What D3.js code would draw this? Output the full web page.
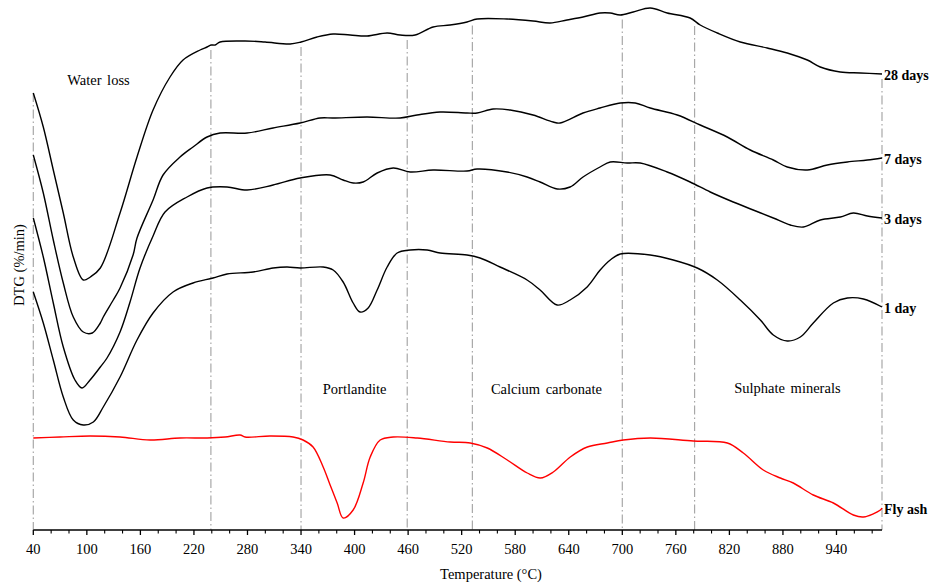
<!DOCTYPE html>
<html>
<head>
<meta charset="utf-8">
<script src="https://cdn.jsdelivr.net/npm/d3@7"></script>
<style>
  html, body { margin: 0; padding: 0; background: #fff; }
  svg { display: block; font-family: "Liberation Serif", "Times New Roman", serif; }
</style>
</head>
<body>
<svg id="chart" width="937" height="588"></svg>
<script>
// ---------- DATA (temperature °C, stacked DTG signal in arbitrary offset units) ----------
const temps28 = [40,51.2,62.4,73.6,84.8,96,103.9,115.1,137.2,156.2,174.2,193.2,207.8,226.9,234.7,239.2,243.7,249.3,277.3,299.7,327.8,340.1,358,376,395,414,436.5,451,467.9,488,507,526,537.3,570.9,600,619,638,656,675,686.5,697.7,712.2,731.3,750.3,776,787.3,806.4,832.2,862.4,884.8,907.3,921.8,944.2,966.7,991];
const vals28  = [437,403,360,317,273,250,253,262,317,373,420,453,470,480,483,485,485,488,489,488,486,488,493,496,495,494,497,495,495,503,505,508,511,511,509,507,510,513,517,517,515,518,522,517,512,505,497,488,482,477,470,463,458,457,456];

const temps7 = [40,51.2,62.4,73.6,84.8,96,106.1,115.1,118.4,129.6,137.2,151.8,156.2,174.2,185.4,204.4,219,234.7,249.3,279.6,308.7,339,361.3,376,414,451,470,495.8,526,537.3,555.3,574.3,600,622.5,630.3,656,675,697.7,714.5,731.3,761.6,787.3,817.6,843.4,869.2,884.8,907.3,929.7,952.2,974.6,991];
const vals7  = [375,337,290,247,213,198,197,207,213,230,242,275,292,330,355,373,383,393,397,397,402,407,412,412,413,412,415,418,417,417,421,420,415,408,407,417,422,427,427,422,415,405,393,380,370,363,360,365,368,370,372];

const temps3 = [40,51.2,62.4,73.6,86.7,94.6,103.6,115.1,122.6,137.2,148.4,159.6,174.2,187.6,212.3,234.7,257.1,279.6,308.7,339,372.6,387.2,398.4,409.6,425.3,443.3,462.3,488,526,537.3,570.9,593.3,607.9,627,641.5,656,675,686.5,705.5,720.1,750.3,776,798.5,824.3,846.7,869.2,888.3,902.9,921.9,944.3,958.9,974.6,991];
const vals3  = [312,273,227,183,150,142,150,163,172,198,228,262,294,318,333,342,343,340,345,352,355,350,347,348,357,362,358,360,359,361,358,353,348,341,343,353,363,368,367,367,358,348,338,328,320,312,305,303,310,313,317,314,312];

const temps1 = [40,51.2,62.4,73.6,84.8,96,107.3,118.4,137.2,156.2,174.2,196.6,219,241.4,257.1,286.3,308.7,324.4,339,364.8,376,387.2,398.4,406.2,415.2,425.3,436.5,447.7,462.3,481.3,495.9,526,540.6,563,593.3,607.9,627,641.5,660.6,675.2,686.5,697.7,731.3,757.1,784,806.4,832.2,854.7,869.2,884.9,899.5,914,936.5,952.2,970.2,991];
const vals1  = [238,207,170,133,110,105,108,123,153,190,217,238,247,252,256,258,262,263,262,263,260,248,227,218,222,240,263,277,280,280,277,275,272,263,250,240,225,230,243,260,270,276,275,270,262,250,230,210,195,189,193,207,227,232,231,223];

const tempsFA = [40,69.9,103.6,137.2,170.8,204.4,234.7,254.9,271.7,277.3,305.3,331.1,342.3,353.5,364.8,372.6,380.5,387.2,398.4,409.6,417.5,428.7,443.3,470.2,507.2,529.6,548.7,571.1,593.5,608.1,622.7,641.7,660.8,683.2,701.1,731.4,779.6,817.7,835.6,858,877.1,891.6,914,936.5,958.9,970.1,989.2,991];
const valsFA  = [92,93,94,93,90,92,92,93,95,93,94,93,90,83,63,45,27,12,20,47,73,90,93,92,88,87,82,70,57,52,58,73,83,87,90,92,89,87,77,60,52,47,35,27,15,13,20,22];

const seriesNames  = ["28 days", "7 days", "3 days", "1 day", "Fly ash"];
const seriesColors = ["#000000", "#000000", "#000000", "#000000", "#ff0000"];

const guideTemps = [40, 239, 340, 459, 532, 700, 781, 991];
const regionLabels = ["Water loss", "Portlandite", "Calcium carbonate", "Sulphate minerals"];
const regionLabelTemps = [113, 400, 615, 885];
const regionLabelVals  = [445, 136, 136, 137];

const majorTicks = [40,100,160,220,280,340,400,460,520,580,640,700,760,820,880,940];
const xLabel = "Temperature (°C)";
const yLabel = "DTG (%/min)";

// ---------- CHART ----------
const svg = d3.select("#chart");
const x = d3.scaleLinear().domain([40, 991]).range([33.3, 882]);
const y = d3.scaleLinear().domain([0, 520]).range([530, 10]);

const allSeries = [
  {name: seriesNames[0], t: temps28, v: vals28, c: seriesColors[0]},
  {name: seriesNames[1], t: temps7,  v: vals7,  c: seriesColors[1]},
  {name: seriesNames[2], t: temps3,  v: vals3,  c: seriesColors[2]},
  {name: seriesNames[3], t: temps1,  v: vals1,  c: seriesColors[3]},
  {name: seriesNames[4], t: tempsFA, v: valsFA, c: seriesColors[4]}
].map(s => ({...s, pts: s.t.map((t, i) => [t, s.v[i]])}));

// guide lines: from just under the 28-day curve down to the axis
function interp(ts, vs, t) {
  const i = Math.max(1, Math.min(ts.length - 1, d3.bisectLeft(ts, t)));
  const t0 = ts[i-1], t1 = ts[i];
  const f = (t - t0) / (t1 - t0);
  return vs[i-1] + f * (vs[i] - vs[i-1]);
}
svg.append("g").selectAll("line").data(guideTemps).join("line")
  .attr("x1", d => x(d)).attr("x2", d => x(d))
  .attr("y1", (d, i) => y(interp(temps28, vals28, d)) + (i === 0 ? 0 : 5))
  .attr("y2", y(0))
  .attr("stroke", "#a8a8a8").attr("stroke-width", 1.2)
  .attr("stroke-dasharray", "9,3,1.5,3");

// curves
const line = d3.line().x(d => x(d[0])).y(d => y(d[1])).curve(d3.curveCatmullRom.alpha(0.5));
svg.append("g").selectAll("path").data(allSeries).join("path")
  .attr("d", d => line(d.pts))
  .attr("fill", "none")
  .attr("stroke", d => d.c)
  .attr("stroke-width", 1.4)
  .attr("stroke-linejoin", "round");

// series labels at right end
svg.append("g").selectAll("text").data(allSeries).join("text")
  .attr("x", 884)
  .attr("y", d => y(d.v[d.v.length - 1]) + 1)
  .attr("dy", "0.35em")
  .attr("font-size", 14)
  .attr("font-weight", "bold")
  .attr("fill", "#000")
  .text(d => d.name);

// region labels
svg.append("g").selectAll("text").data(regionLabels).join("text")
  .attr("x", (d, i) => x(regionLabelTemps[i]))
  .attr("y", (d, i) => y(regionLabelVals[i]))
  .attr("text-anchor", "middle")
  .attr("font-size", 14.5)
  .attr("fill", "#000")
  .attr("word-spacing", "2px")
  .text(d => d);

// x axis
const minorTicks = d3.range(40, 991, 20).filter(t => !majorTicks.includes(t));
const axisG = svg.append("g").attr("transform", `translate(0,${y(0)})`);
axisG.append("line").attr("x1", x(40)).attr("x2", x(991)).attr("stroke", "#000").attr("stroke-width", 1.5);
axisG.selectAll(".maj").data(majorTicks).join("line").attr("class", "maj")
  .attr("x1", d => x(d)).attr("x2", d => x(d)).attr("y1", 0).attr("y2", 5)
  .attr("stroke", "#000").attr("stroke-width", 1.3);
axisG.selectAll(".min").data(minorTicks).join("line").attr("class", "min")
  .attr("x1", d => x(d)).attr("x2", d => x(d)).attr("y1", 0).attr("y2", 3.5)
  .attr("stroke", "#000").attr("stroke-width", 1.1);
axisG.selectAll("text").data(majorTicks).join("text")
  .attr("x", d => x(d)).attr("y", 24)
  .attr("text-anchor", "middle").attr("font-size", 14.5).attr("fill", "#000")
  .text(d => d);

svg.append("text").attr("x", 491).attr("y", 579).attr("text-anchor", "middle")
  .attr("font-size", 14.5).attr("fill", "#000").text(xLabel);

svg.append("text").attr("transform", "translate(24,265) rotate(-90)")
  .attr("text-anchor", "middle").attr("font-size", 14.5).attr("fill", "#000").text(yLabel);
</script>
</body>
</html>
